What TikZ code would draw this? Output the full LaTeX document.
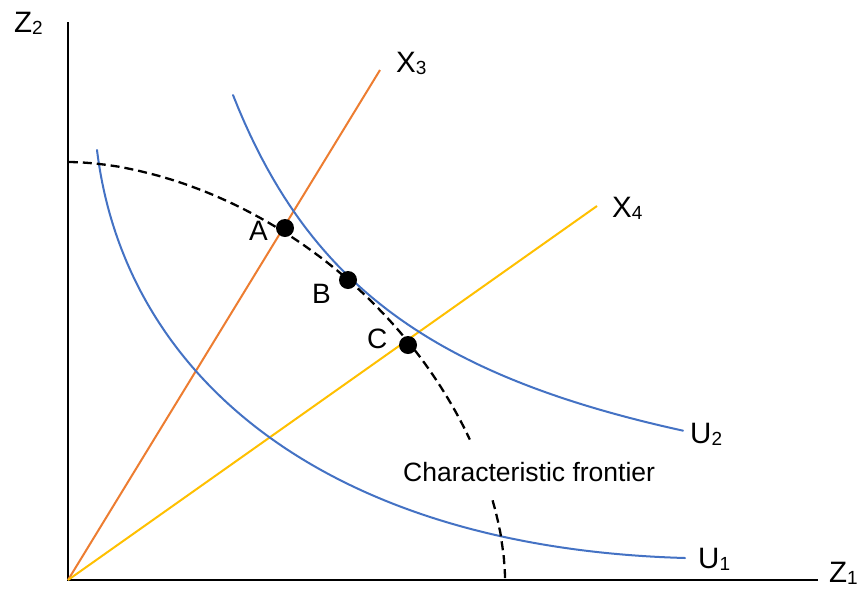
\documentclass[tikz,border=0pt]{standalone}
\usepackage{fontspec}
\setmainfont{Liberation Sans}
\definecolor{ublue}{RGB}{68,114,196}
\definecolor{xorange}{RGB}{237,125,49}
\definecolor{xyellow}{RGB}{255,192,0}
\newcommand\lsub[1]{\raisebox{-2pt}{\fontsize{19}{19}\selectfont #1}}
\begin{document}
\begin{tikzpicture}[x=1pt,y=-1pt,
  axis/.style={line width=2pt,black},
  ucurve/.style={line width=2pt,ublue,line cap=round},
  orangeline/.style={line width=2pt,xorange},
  yellowline/.style={line width=2pt,xyellow},
  frontier/.style={line width=2.3pt,black,dash pattern=on 9pt off 5pt},
  bigtxt/.style={inner sep=0pt,anchor=base west,font=\fontsize{29.5}{29.5}\selectfont},
  pttxt/.style={inner sep=0pt,anchor=base west,font=\fontsize{28}{28}\selectfont},
  midtxt/.style={inner sep=0pt,anchor=base west,font=\fontsize{26.5}{26.5}\selectfont},
  dotnode/.style={circle,fill=black,inner sep=0pt,minimum size=18pt}]
\useasboundingbox (0,0) rectangle (862,590);
\fill[white] (0,0) rectangle (862,590);
% axes
\coordinate (O) at (68,580);
\coordinate (ytop) at (68,22);
\coordinate (xend) at (818,580);
\draw[axis] (ytop) -- (O) -- (xend);
% rays
\coordinate (x3end) at (380,70);
\coordinate (x4end) at (597,206);
\draw[orangeline] (O) -- (x3end);
\draw[yellowline] (O) -- (x4end);
% indifference curves
\coordinate (u1s) at (97,150);
\coordinate (u1e) at (685,558);
\draw[ucurve] (u1s) .. controls (125,380) and (330,548) .. (u1e);
\draw[ucurve] plot[domain=2.33:6.83,samples=80,variable=\u] ({100*\u},{570.5-891.49/(\u-0.455)});
% characteristic frontier
\draw[frontier] plot[domain=89.8:22,samples=70,variable=\t] ({68+437*pow(cos(\t),1.111)},{580-418*pow(sin(\t),1.111)});
\draw[frontier] plot[domain=13:0.3,samples=25,variable=\t] ({68+437*pow(cos(\t),1.111)},{580-418*pow(sin(\t),1.111)});
% points
\node[dotnode] (A) at (285,228) {};
\node[dotnode] (B) at (348,280) {};
\node[dotnode] (C) at (408,345) {};
\node[pttxt] (lA) at (249,240) {A};
\node[pttxt] (lB) at (312,303) {B};
\node[pttxt] (lC) at (367,348) {C};
% labels
\node[bigtxt] (lZ2) at (14,32) {Z\lsub{2}};
\node[bigtxt] (lZ1) at (829,582) {Z\lsub{1}};
\node[bigtxt] (lX3) at (396,72) {X\lsub{3}};
\node[bigtxt] (lX4) at (612,217) {X\lsub{4}};
\node[bigtxt] (lU2) at (690,443) {U\lsub{2}};
\node[bigtxt] (lU1) at (698,568) {U\lsub{1}};
\node[midtxt] (lCF) at (403,481) {Characteristic frontier};
\end{tikzpicture}
\end{document}
